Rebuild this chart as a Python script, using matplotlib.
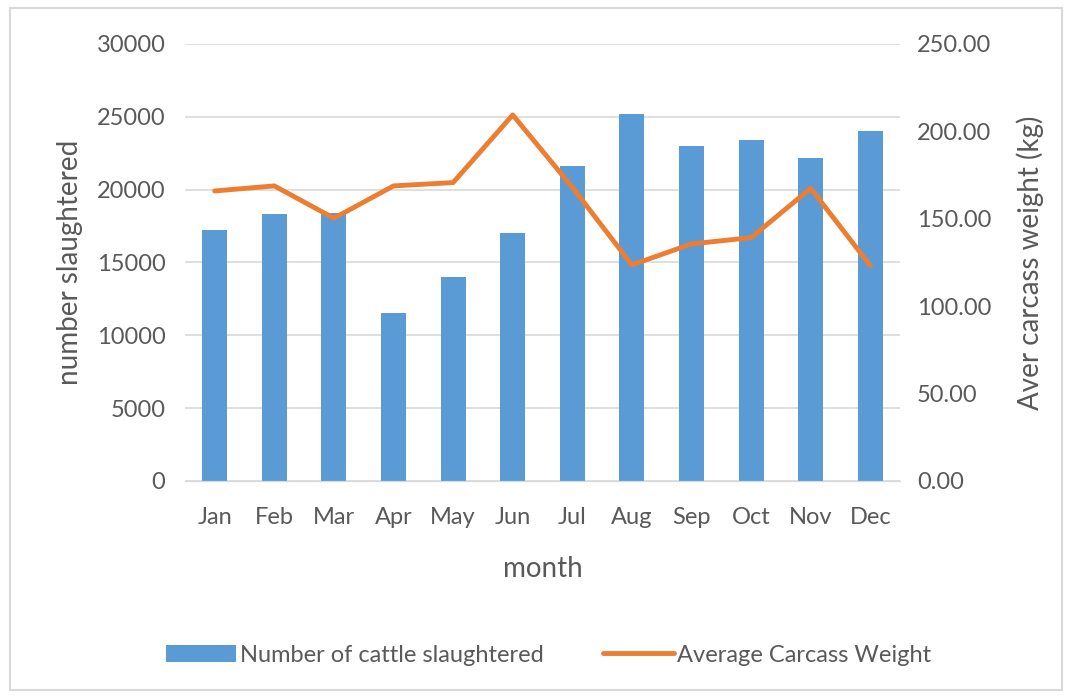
import matplotlib.pyplot as plt
import numpy as np
from matplotlib.patches import Rectangle

months = ['Jan', 'Feb', 'Mar', 'Apr', 'May', 'Jun', 'Jul', 'Aug', 'Sep', 'Oct', 'Nov', 'Dec']
slaughtered = [17200, 18300, 18400, 11500, 14000, 17000, 21600, 25200, 23000, 23400, 22200, 24000]
carcass_weight = [165.9, 168.8, 150.3, 168.8, 170.7, 209.4, 168.0, 123.6, 135.6, 139.2, 167.4, 123.2]

plt.rcParams['font.family'] = ['Lato', 'DejaVu Sans']
text_color = '#595959'
bar_color = '#5b9bd5'
line_color = '#ed7d31'

fig = plt.figure(figsize=(10.69, 6.98), dpi=100)
fig.patches.append(Rectangle((10 / 1069, 1 - 690 / 698), 1052 / 1069, 682 / 698,
                             transform=fig.transFigure, fill=False, edgecolor='#d9d9d9', linewidth=1.5))
ax = fig.add_axes([0.173, 0.311, 0.669, 0.626])
ax2 = ax.twinx()

x = np.arange(len(months))
bars = ax.bar(x, slaughtered, width=0.42, color=bar_color, label='Number of cattle slaughtered', zorder=2)
line, = ax2.plot(x, carcass_weight, color=line_color, linewidth=3.5, label='Average Carcass Weight',
                 solid_capstyle='round', solid_joinstyle='round')

ax.set_ylim(0, 30000)
ax.set_yticks(np.arange(0, 30001, 5000))
ax2.set_ylim(0, 250)
ax2.set_yticks(np.arange(0, 251, 50))
ax2.set_yticklabels([f'{v:.2f}' for v in np.arange(0, 251, 50)])
ax.set_xlim(-0.5, 11.5)
ax.set_xticks(x)
ax.set_xticklabels(months)

ax.grid(axis='y', color='#d9d9d9', linewidth=1.2, zorder=0)
ax.set_axisbelow(True)
for a in (ax, ax2):
    for s in ['top', 'right', 'left']:
        a.spines[s].set_visible(False)
    a.spines['bottom'].set_color('#d9d9d9')
    a.tick_params(length=0, colors=text_color, labelsize=17)
ax.tick_params(axis='y', pad=14)
ax.tick_params(axis='x', pad=19)
ax2.tick_params(axis='y', pad=12)

ax.set_xlabel('month', fontsize=20, color=text_color, labelpad=20)
ax.set_ylabel('number slaughtered', fontsize=20, color=text_color, labelpad=10)
ax2.set_ylabel('Aver carcass weight (kg)', fontsize=20, color=text_color, labelpad=18)

fig.legend([bars, line], ['Number of cattle slaughtered', 'Average Carcass Weight'],
           loc='center', bbox_to_anchor=(0.513, 1 - 655 / 698), ncol=2, frameon=False,
           fontsize=17, labelcolor=text_color, handlelength=3.0, columnspacing=2.5, handletextpad=0.15)

fig.savefig('out.png', dpi=100)
